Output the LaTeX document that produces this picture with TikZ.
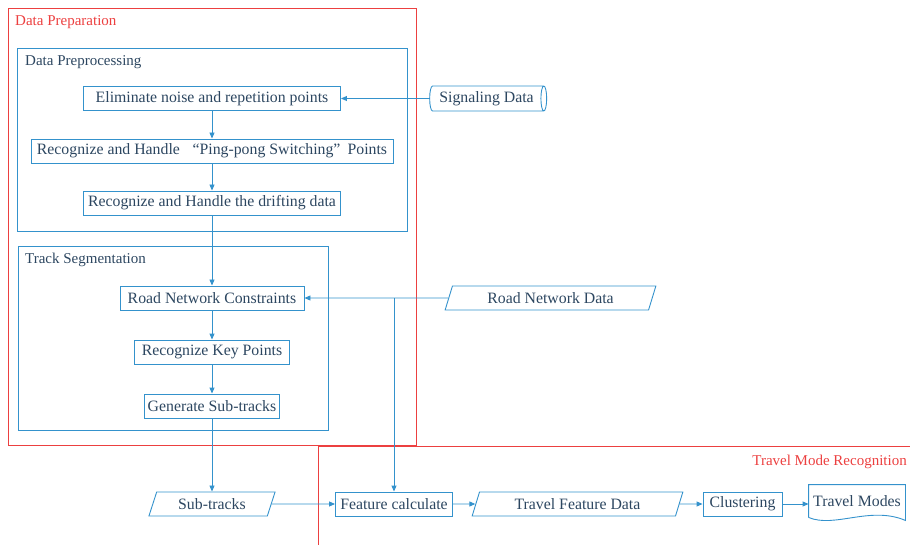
\documentclass[tikz,border=0pt]{standalone}
\usepackage{fontspec}
\setmainfont{Liberation Serif}
\usetikzlibrary{shapes.geometric,arrows.meta}
\definecolor{lblue}{RGB}{52,146,204}
\definecolor{tcol}{RGB}{44,70,96}
\definecolor{rred}{RGB}{236,64,64}
\begin{document}
\begin{tikzpicture}[x=1pt,y=-1pt,
 box/.style={draw=lblue,line width=0.9pt,rectangle,minimum height=24pt,inner sep=0pt,text=tcol,font=\fontsize{15.8}{18}\selectfont},
 para/.style={box,trapezium,trapezium left angle=67,trapezium right angle=113,trapezium stretches=true},
 cyl/.style={box,cylinder,shape aspect=0.4},
 grp/.style={draw=lblue,line width=0.9pt},
 sect/.style={draw=rred,line width=1pt},
 lab/.style={anchor=west,text=tcol,font=\fontsize{15}{17}\selectfont,inner sep=0pt},
 arr/.style={draw=lblue,line width=0.9pt,-{Triangle[length=6pt,width=5pt]}},
 lin/.style={draw=lblue,line width=0.9pt}]
\useasboundingbox (0,0) rectangle (910,545);
% sections
\draw[sect] (8,9) rectangle (416,445);
\node[lab,text=rred] (lprep) at (15,22) {Data Preparation};
\draw[grp] (17,48) rectangle (407,231);
\node[lab] (lpre) at (25,62) {Data Preprocessing};
\draw[grp] (18,246) rectangle (328,430);
\node[lab] (lseg) at (25,260) {Track Segmentation};
\draw[sect] (912,446) -- (318,446) -- (318,548);
\node[lab,anchor=east,text=rred] (ltmr) at (907,462) {Travel Mode Recognition};
% nodes
\node[box,minimum width=257pt] (elim) at (212,98.5) {Eliminate noise and repetition points};
\node[box,minimum width=362pt] (ping) at (212,151) {Recognize and Handle\hspace{0.8em}“Ping-pong Switching”\hspace{0.45em}Points};
\node[box,minimum width=257pt] (drift) at (212,203) {Recognize and Handle the drifting data};
\node[cyl,minimum height=117pt,minimum width=25pt] (sig) at (486.5,98.5) {Signaling Data};
\node[box,minimum width=184pt] (rnc) at (212,298) {Road Network Constraints};
\node[box,minimum width=155pt] (rkp) at (212,352) {Recognize Key Points};
\node[box,minimum width=135pt] (gst) at (212,406) {Generate Sub-tracks};
\node[para,minimum width=211pt] (rnd) at (550.5,298) {Road Network Data};
\node[para,minimum width=127pt] (sub) at (212,504) {Sub-tracks};
\node[box,minimum width=117pt] (feat) at (394,504) {Feature calculate};
\node[para,minimum width=211pt] (tfd) at (577.5,504) {Travel Feature Data};
\node[box,minimum width=79pt] (clu) at (742.5,504) {Clustering};
\node[box,draw=none,minimum width=96pt,minimum height=32pt] (tm) at (857,501) {Travel Modes};
\draw[lin] (tm.south west) -- (tm.north west) -- (tm.north east) -- ([yshift=-3pt]tm.south east)
  .. controls ([xshift=-35pt,yshift=12pt]tm.south east) and ([xshift=26pt,yshift=-11pt]tm.south west) .. (tm.south west);
% connectors
\draw[arr] (sig.west) -- (elim.east);
\draw[arr] (elim) -- (ping);
\draw[arr] (ping) -- (drift);
\draw[arr] (drift) -- (rnc);
\draw[arr] (rnc) -- (rkp);
\draw[arr] (rkp) -- (gst);
\draw[arr] (gst) -- (sub);
\draw[arr] (rnd.west) -- (rnc.east);
\coordinate (br) at (394,298);
\draw[arr] (br) -- (feat.north);
\draw[arr] (sub.east) -- (feat.west);
\draw[arr] (feat) -- (tfd);
\draw[arr] (tfd.east) -- (clu.west);
\draw[arr] (clu.east) -- (clu.east -| tm.west);
\end{tikzpicture}
\end{document}
